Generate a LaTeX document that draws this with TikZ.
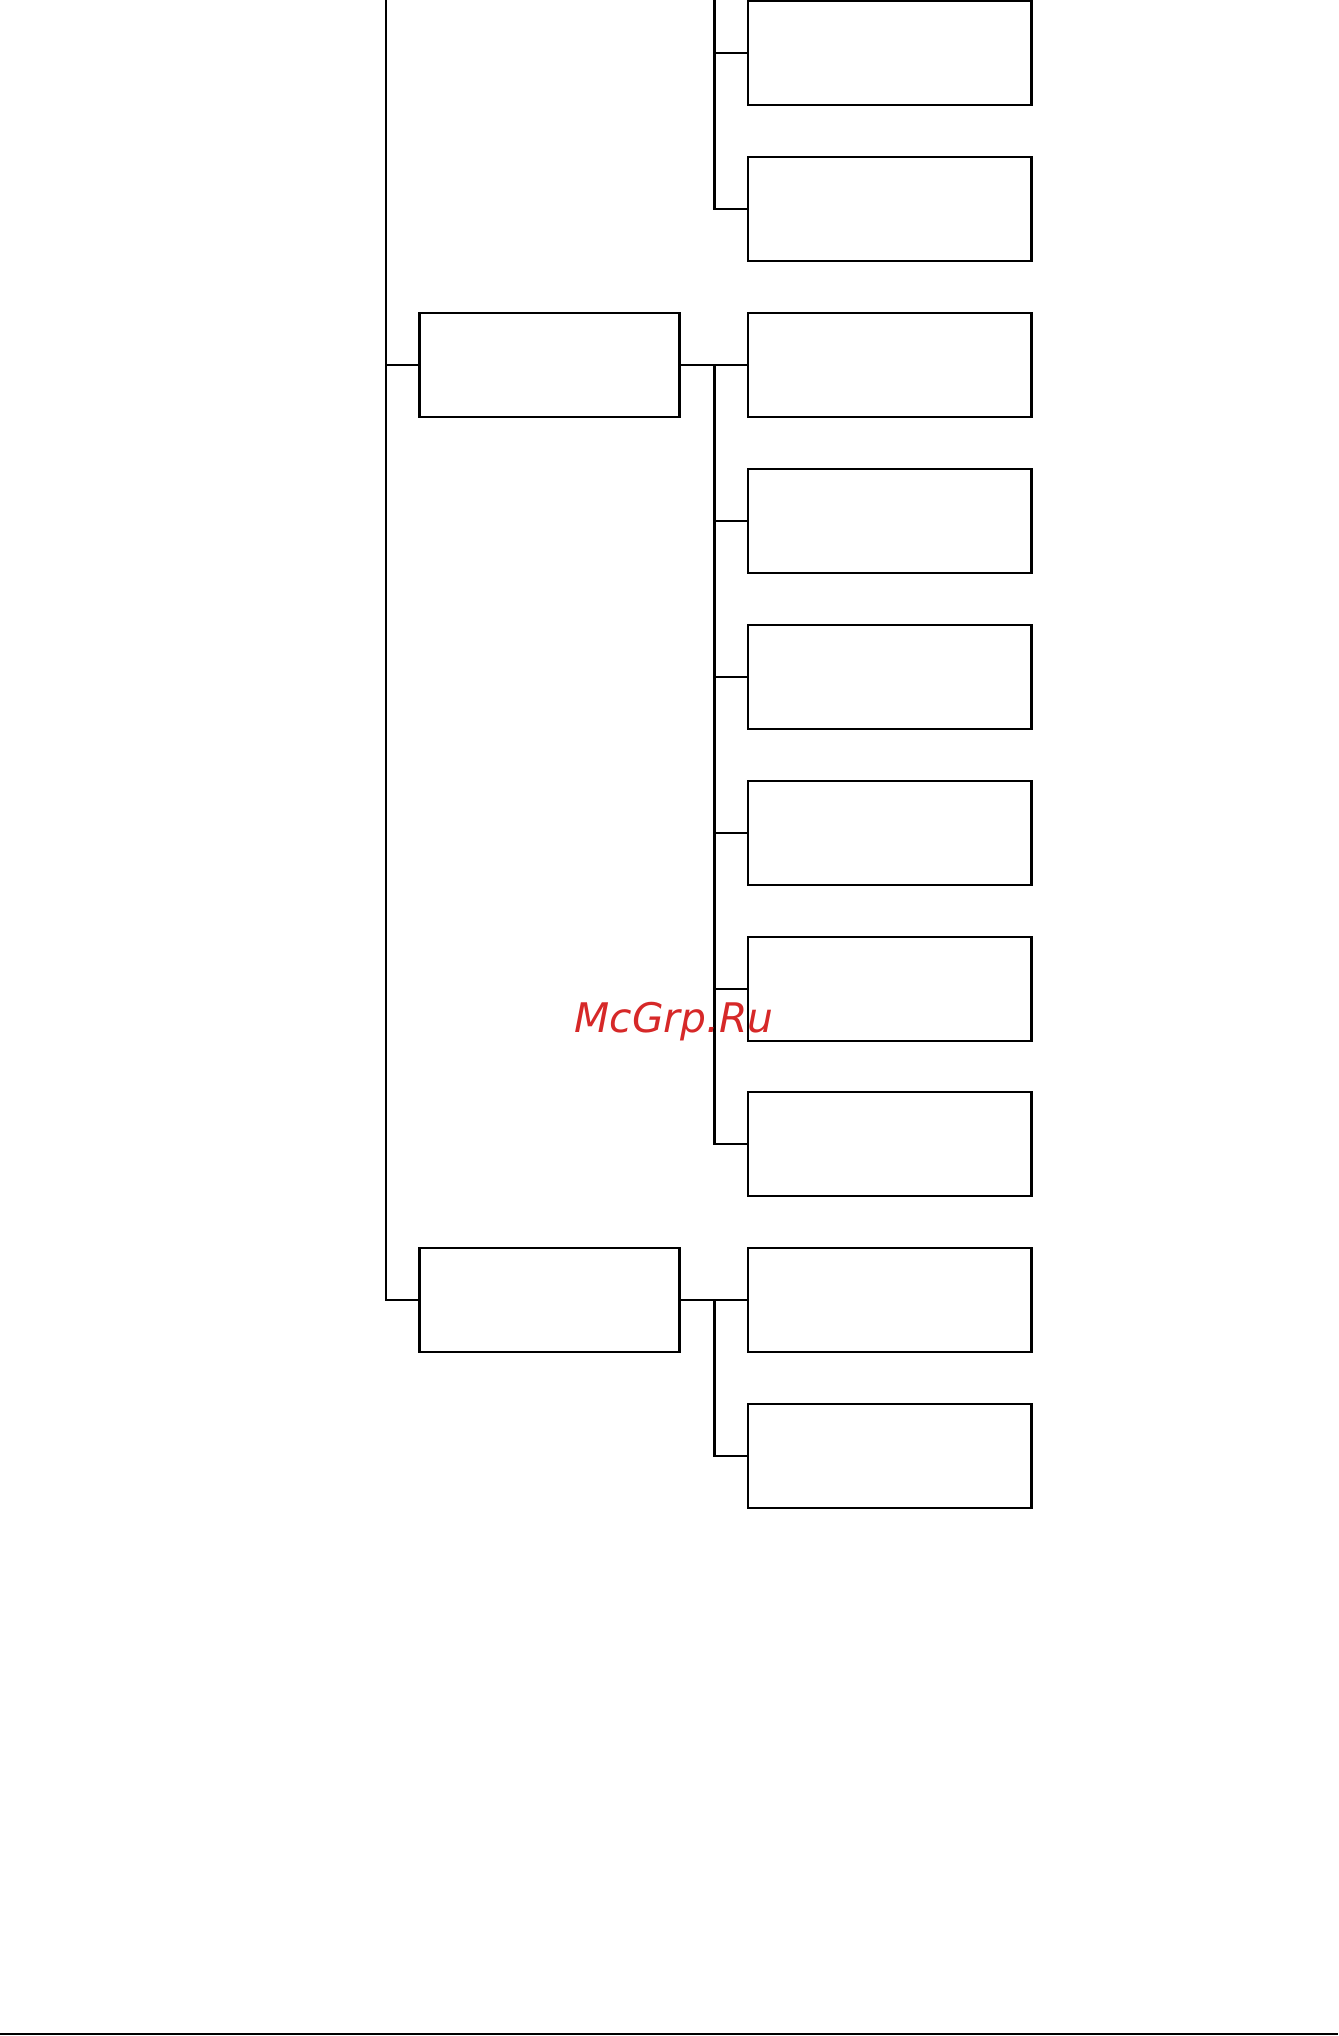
\documentclass[tikz,border=0pt]{standalone}
\usepackage{fontspec}
\newfontfamily\wmfont{DejaVu Sans}
\usetikzlibrary{positioning,calc}
\definecolor{wmred}{HTML}{D62828}

\begin{document}
\begin{tikzpicture}[
  x=0.01cm, y=-0.01cm,
  line width=0.75pt,
  midbox/.style={rectangle, draw, line width=0.75pt, minimum width=2.60cm, minimum height=1.04cm, inner sep=0pt},
  leafbox/.style={rectangle, draw, line width=0.75pt, minimum width=2.835cm, minimum height=1.04cm, inner sep=0pt},
  link/.style={line width=0.75pt}
]
  \useasboundingbox (0,0) rectangle (1338,2036);

  % second level
  \node[midbox] (m1) at (549.5,365) {};
  \node[midbox] (m2) at (549.5,1300) {};

  % third level
  \node[leafbox] (r0) at (889.75,53) {};
  \node[leafbox] (r1) at (889.75,209) {};
  \node[leafbox] (r2) at (889.75,365) {};
  \node[leafbox] (r3) at (889.75,521) {};
  \node[leafbox] (r4) at (889.75,677) {};
  \node[leafbox] (r5) at (889.75,833) {};
  \node[leafbox] (r6) at (889.75,989) {};
  \node[leafbox] (r7) at (889.75,1144) {};
  \node[leafbox] (r8) at (889.75,1300) {};
  \node[leafbox] (r9) at (889.75,1456) {};

  \coordinate (trunk) at (386,0);
  \coordinate (rail) at (714.5,0);

  % trunk to second level
  \draw[link] (trunk) |- (m2.west);
  \draw[link] (m1.west) -- (m1.west -| trunk);

  % upper group
  \draw[link] (rail) |- (r1.west);
  \draw[link] (r0.west) -- (r0.west -| rail);

  % first middle group
  \draw[link] (m1.east) -- (r2.west);
  \draw[link] (r2.west -| rail) |- (r7.west);
  \draw[link] (r3.west) -- (r3.west -| rail);
  \draw[link] (r4.west) -- (r4.west -| rail);
  \draw[link] (r5.west) -- (r5.west -| rail);
  \draw[link] (r6.west) -- (r6.west -| rail);

  % second middle group
  \draw[link] (m2.east) -- (r8.west);
  \draw[link] (r8.west -| rail) |- (r9.west);

  % watermark
  \node[text=wmred, font=\wmfont\itshape\fontsize{11.6}{12}\selectfont] (mark) at (674,1022) {McGrp.Ru};

  % rule at the foot
  \coordinate (footl) at (0,2034);
  \coordinate (footr) at (1338,2034);
  \draw[line width=0.5pt] (footl) -- (footr);
\end{tikzpicture}
\end{document}
